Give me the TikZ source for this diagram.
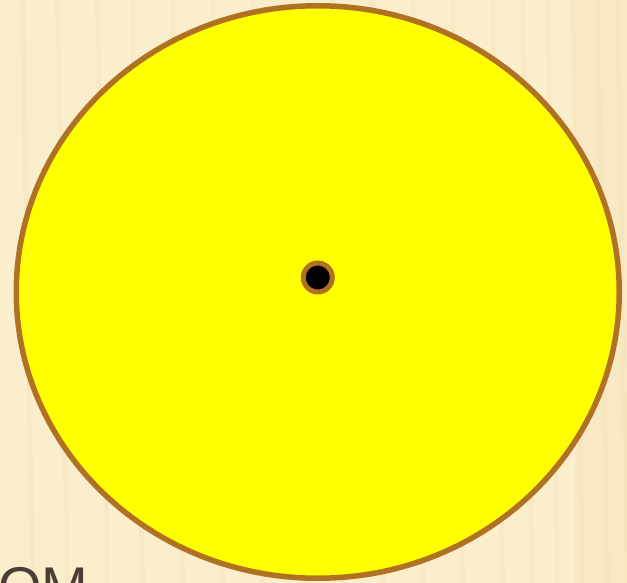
\documentclass[tikz,border=0pt]{standalone}
\usepackage{fontspec}
\setmainfont{Liberation Sans}
\usetikzlibrary{shapes.geometric}
\definecolor{bgbeige}{RGB}{251,238,205}
\definecolor{stripe}{RGB}{242,224,176}
\definecolor{rimbrown}{RGB}{176,114,34}
\definecolor{sunyellow}{RGB}{255,255,0}
\definecolor{textgray}{RGB}{74,62,54}
\tikzset{
  rim/.style={draw=rimbrown, line width=5.5pt},
  stripeband/.style={fill=stripe, opacity=0.3},
}
\begin{document}
\begin{tikzpicture}[x=1pt,y=-1pt]
\useasboundingbox (0,0) rectangle (627,583);
\clip (0,0) rectangle (627,583);
\fill[bgbeige] (0,0) rectangle (627,583);
% subtle stripes
\foreach \xs in {20,55,95,130,170,210,250,290,330,370,410,450,490,520,545,570,595,615}{
  \fill[stripeband] (\xs,0) -- (\xs+5,0) -- (\xs+15,583) -- (\xs+10,583) -- cycle;
}
\fill[stripe, opacity=0.3] (575,0) rectangle (627,583);
% sun disk
\node[ellipse, rim, fill=sunyellow, minimum width=603pt, minimum height=572.5pt, inner sep=0pt] (sun) at (317.75,292) {};
% centre point
\node[circle, draw=rimbrown, line width=5pt, fill=black, minimum size=29pt, inner sep=0pt] (dot) at (317.8,277.5) {};
% partial label (cut by the lower edge, as in the reference)
\node[anchor=base west, inner sep=0pt, text=textgray, font=\fontsize{56}{60}\selectfont] (lbl) at (-2,606) {ОМ};
\end{tikzpicture}
\end{document}
